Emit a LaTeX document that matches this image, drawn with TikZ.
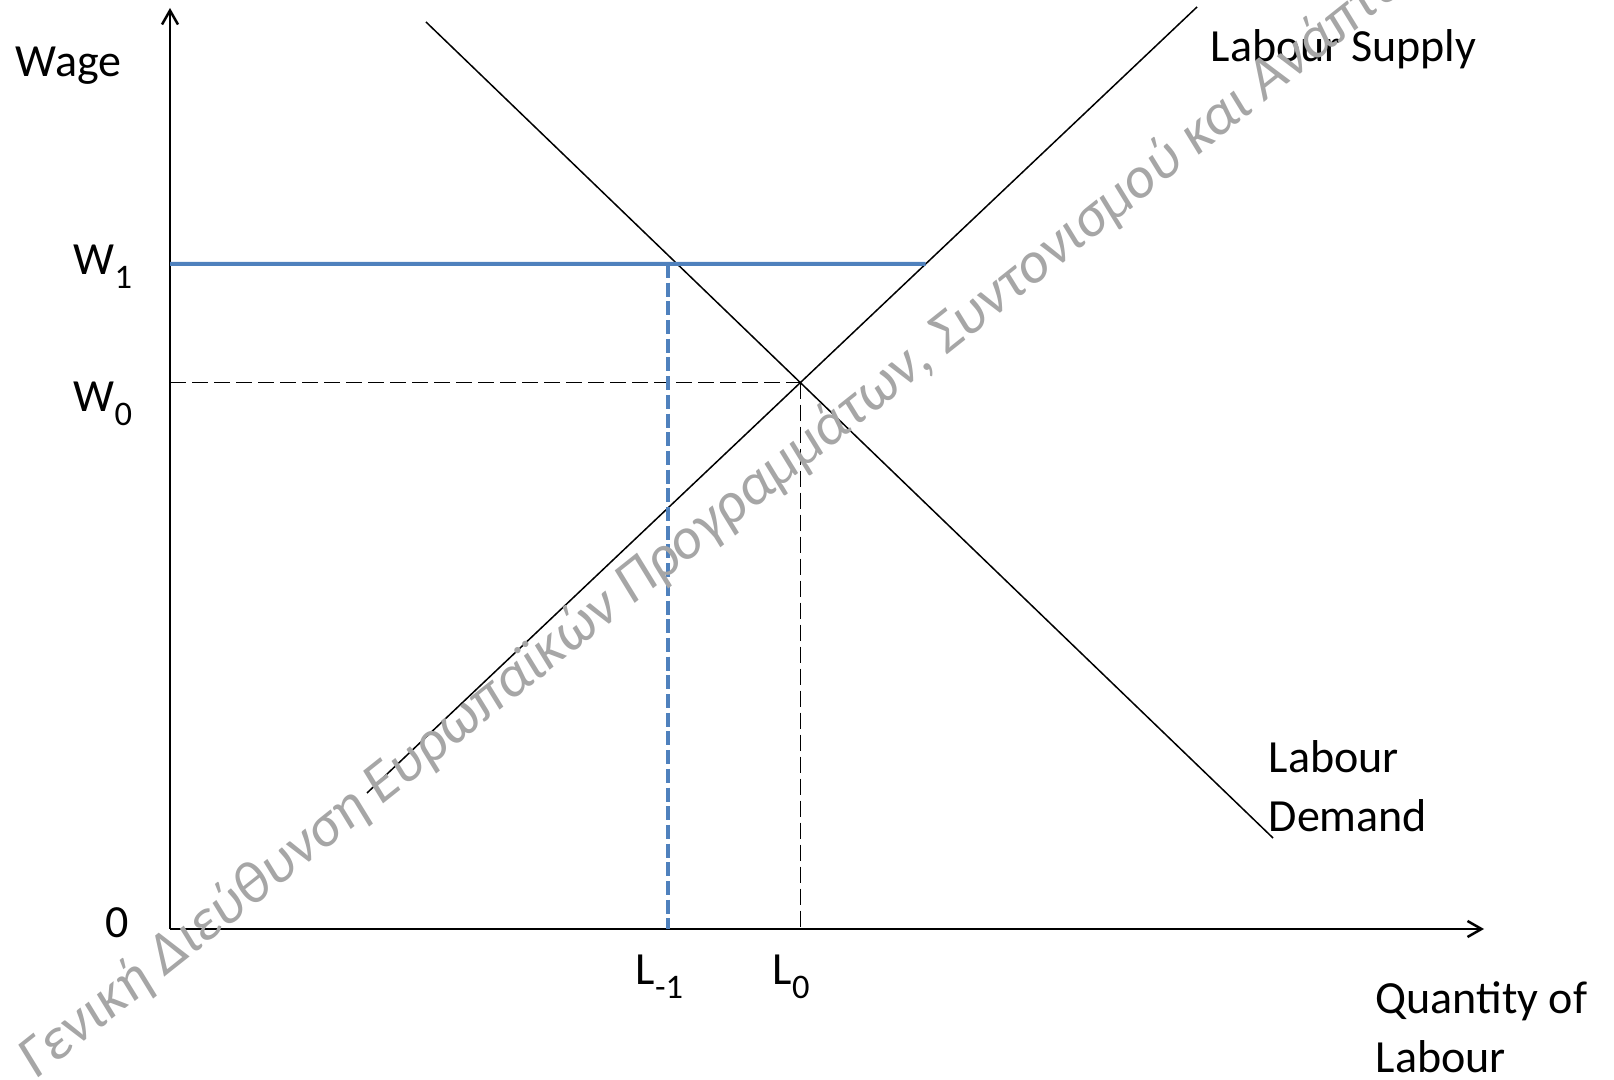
\documentclass[tikz,border=0pt]{standalone}
\usepackage{fontspec}
\setmainfont{Carlito}
\usepackage{tikz}
\usetikzlibrary{arrows.meta,positioning}

\definecolor{wageblue}{RGB}{79,129,189}
\newcommand{\lsub}[1]{\raisebox{-0.3em}{\fontsize{9.8}{9.8}\selectfont #1}}

\begin{document}
\begin{tikzpicture}[
    axis/.style={line width=0.02cm, -{Straight Barb[length=1.4mm,width=1.6mm,line width=0.025cm]}},
    curve/.style={line width=0.015cm},
    guide/.style={line width=0.015cm, dash pattern=on 0.16cm off 0.06cm},
    minwage/.style={line width=0.04cm, wageblue},
    minguide/.style={line width=0.04cm, wageblue, dash pattern=on 0.14cm off 0.047cm},
    lbl/.style={inner sep=0pt, anchor=base west, align=left, font=\fontsize{13.1}{16.8}\selectfont},
    wmark/.style={inner sep=0pt, anchor=base west, rotate=38.5, text=black!35, font=\fontsize{16.8}{16.8}\selectfont\itshape}
  ]
  \useasboundingbox (0,0) rectangle (16.14,10.80);
  \clip (0,0) rectangle (16.14,10.80);

  % axes
  \coordinate (O) at (1.70,1.51);
  \coordinate (ytop) at (1.70,10.72);
  \coordinate (xend) at (14.84,1.51);
  \draw[axis] (O) -- (ytop);
  \draw[axis] (O) -- (xend);

  % supply and demand
  \coordinate (s0) at (3.67,2.87);
  \coordinate (s1) at (11.97,10.73);
  \coordinate (d0) at (4.26,10.58);
  \coordinate (d1) at (12.73,2.42);
  \draw[curve] (s0) -- (s1);
  \draw[curve] (d0) -- (d1);

  % equilibrium
  \coordinate (E) at (intersection of s0--s1 and d0--d1);
  \draw[guide] (O |- E) -- (E);
  \draw[guide] (E) -- (E |- O);

  % minimum wage
  \coordinate (w1) at (1.70,8.16);
  \coordinate (w1r) at (12,8.16);
  \coordinate (w1s) at (intersection of w1--w1r and s0--s1);
  \coordinate (lm) at (6.68,1.51);
  \draw[minwage] (w1) -- (w1s);
  \draw[minguide] (lm |- w1) -- (lm);

  % labels (multi-line ones sit on their last baseline)
  \node[lbl] (wage) at (0.15,10.03) {Wage};
  \node[lbl] (supply) at (12.10,10.18) {Labour Supply};
  \node[lbl] (demand) at (12.68,2.48) {Labour\\Demand};
  \node[lbl] (qty) at (13.75,0.07) {Quantity of\\Labour};
  \node[lbl] (wone) at (0.73,8.05) {W\lsub{1}};
  \node[lbl] (wzero) at (0.73,6.68) {W\lsub{0}};
  \node[lbl] (zero) at (1.05,1.42) {0};
  \node[lbl] (lminus) at (6.35,0.95) {L\lsub{-1}};
  \node[lbl] (lzero) at (7.72,0.95) {L\lsub{0}};

  % watermark
  \node[wmark] (wm) at (0.36,0.00) {Γενική Διεύθυνση Ευρωπαϊκών Προγραμμάτων, Συντονισμού και Ανάπτυξης};
\end{tikzpicture}
\end{document}
